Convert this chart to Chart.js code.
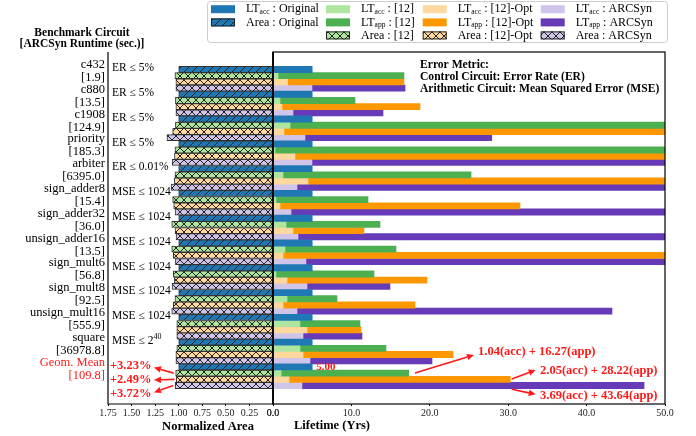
<!DOCTYPE html>
<html><head><meta charset="utf-8">
<script src="https://cdn.jsdelivr.net/npm/chart.js@4.4.0/dist/chart.umd.min.js"></script>
<style>
html,body{margin:0;padding:0;background:#fff;}
#wrap{position:relative;width:696px;height:436px;overflow:hidden;}
#wrap canvas{position:absolute;left:0;top:0;}
</style></head>
<body><div id="wrap"><canvas id="cl" width="696" height="436"></canvas><canvas id="cr" width="696" height="436"></canvas></div>
<script>
// ---------------- data ----------------
const circuits = ['c432','c880','c1908','priority','arbiter','sign_adder8','sign_adder32','unsign_adder16','sign_mult6','sign_mult8','unsign_mult16','square','Geom. Mean'];
const runtimes = ['[1.9]','[13.5]','[124.9]','[185.3]','[6395.0]','[15.4]','[36.0]','[13.5]','[56.8]','[92.5]','[555.9]','[36978.8]','[109.8]'];
const constraints = ['ER ≤ 5%','ER ≤ 5%','ER ≤ 5%','ER ≤ 5%','ER ≤ 0.01%','MSE ≤ 1024','MSE ≤ 1024','MSE ≤ 1024','MSE ≤ 1024','MSE ≤ 1024','MSE ≤ 1024','MSE ≤ 2^40',''];

const areaOriginal = [1,1,1,1,1,1,1,1,1,1,1,1,1];
const area12       = [1.04,1.035,1.035,1.04,1.04,1.064,1.074,1.074,1.057,1.04,1.02,1.02,1.0323];
const area12Opt    = [1.03,1.03,1.064,1.045,1.046,1.053,1.039,1.057,1.046,1.057,1.02,1.03,1.0249];
const areaARCSyn   = [1.03,1.03,1.125,1.07,1.081,1.039,1.028,1.035,1.071,1.074,1.02,1.03,1.0372];
const geomAreaLabels = ['+3.23%','+2.49%','+3.72%'];

const ltAccOriginal = [5,5,5,5,5,5,5,5,5,5,5,5,5];
const ltAcc12     = [0.64,0.89,2.17,0.26,1.28,0.38,1.66,1.53,0.38,1.79,3.44,3.44,1.04];
const ltApp12     = [16.06,9.57,56.0,58.0,23.98,11.74,11.99,14.16,12.5,6.37,7.66,10.97,16.27];
const ltAcc12Opt  = [1.87,1.15,1.4,2.8,4.46,0.89,2.55,1.28,1.79,1.28,4.34,3.83,2.05];
const ltApp12Opt  = [14.83,17.6,60.0,62.0,55.0,30.61,9.05,57.0,17.85,16.83,6.88,19.13,28.22];
const ltAccARCSyn = [4.97,2.55,4.08,4.97,3.06,2.3,3.19,4.2,4.34,3.06,3.83,4.72,3.69];
const ltAppARCSyn = [11.87,11.48,23.82,54.0,58.0,60.0,61.0,56.0,10.58,40.18,7.52,15.56,43.64];

// ---------------- style / layout ----------------
const SERIF = "'Liberation Serif','Times New Roman',serif";
const C = {blue:'#1f77b4', lgreen:'#aee6a0', green:'#4caf50', lorange:'#ffd89e', orange:'#ff9800', lav:'#d1c4e9', purple:'#673ab7', red:'#ff1a1a'};
const PLOT_TOP = 52, PLOT_BOTTOM = 404, LEFT_X = 108, MID_X = 273, RIGHT_X = 665, W = 696;
const Y_MIN = -1.08, Y_MAX = 13.12;
const BAR_T = (PLOT_BOTTOM - PLOT_TOP) / (Y_MAX - Y_MIN) / 4;

const mk = arr => arr.map((v, i) => ({x: v, y: i}));

function hatch(bg, type) {
  const s = 8, c = document.createElement('canvas');
  c.width = s; c.height = s;
  const g = c.getContext('2d');
  g.fillStyle = bg; g.fillRect(0, 0, s, s);
  g.strokeStyle = '#222'; g.lineWidth = 1;
  g.beginPath();
  g.moveTo(-1, s + 1); g.lineTo(s + 1, -1);
  g.moveTo(-1, 1); g.lineTo(1, -1);
  g.moveTo(s - 1, s + 1); g.lineTo(s + 1, s - 1);
  if (type === 'x') {
    g.moveTo(-1, -1); g.lineTo(s + 1, s + 1);
    g.moveTo(s - 1, -1); g.lineTo(s + 1, 1);
    g.moveTo(-1, s - 1); g.lineTo(1, s + 1);
  }
  g.stroke();
  return g.createPattern(c, 'repeat');
}
const P = {blue: hatch(C.blue, '/'), green: hatch(C.lgreen, 'x'), orange: hatch(C.lorange, 'x'), lav: hatch(C.lav, 'x')};

function rich(g, parts, x, y, align) {
  let total = 0;
  parts.forEach(p => { g.font = (p.bold ? 'bold ' : '') + p.size + 'px ' + SERIF; p.w = g.measureText(p.t).width; total += p.w; });
  let cx = align === 'right' ? x - total : (align === 'center' ? x - total / 2 : x);
  g.textAlign = 'left'; g.textBaseline = 'middle';
  parts.forEach(p => { g.font = (p.bold ? 'bold ' : '') + p.size + 'px ' + SERIF; g.fillText(p.t, cx, y + (p.dy || 0)); cx += p.w; });
}
function arrow(g, x1, y1, x2, y2, color) {
  g.save();
  g.strokeStyle = color; g.fillStyle = color; g.lineWidth = 1.6;
  const a = Math.atan2(y2 - y1, x2 - x1), hl = 7, hw = 3.2;
  const bx = x2 - hl * Math.cos(a), by = y2 - hl * Math.sin(a);
  g.beginPath(); g.moveTo(x1, y1); g.lineTo(bx, by); g.stroke();
  g.beginPath(); g.moveTo(x2, y2);
  g.lineTo(bx - hw * Math.sin(a), by + hw * Math.cos(a));
  g.lineTo(bx + hw * Math.sin(a), by - hw * Math.cos(a));
  g.closePath(); g.fill();
  g.restore();
}

// ---------------- left chart (area) ----------------
const leftPlugin = {
  id: 'leftDeco',
  afterDraw(chart) {
    const g = chart.ctx, ys = chart.scales.y, xs = chart.scales.x;
    g.save();
    g.strokeStyle = '#000'; g.lineWidth = 1.2;
    g.beginPath();
    g.moveTo(LEFT_X, PLOT_TOP); g.lineTo(LEFT_X, PLOT_BOTTOM); g.lineTo(MID_X, PLOT_BOTTOM);
    g.moveTo(MID_X, PLOT_TOP); g.lineTo(MID_X, PLOT_BOTTOM);
    g.stroke();
    g.fillStyle = '#000';
    constraints.forEach((s, i) => {
      if (!s) return;
      const y = ys.getPixelForValue(i) - 10.5;
      if (s.includes('^')) {
        const [base, sup] = s.split('^');
        rich(g, [{t: base, size: 11.5}, {t: sup, size: 8, dy: -4}], 112, y, 'left');
      } else {
        rich(g, [{t: s, size: 11.5}], 112, y, 'left');
      }
    });
    g.fillStyle = '#000';
    rich(g, [{t: 'Benchmark Circuit', size: 11.5, bold: true}], 82, 33, 'center');
    rich(g, [{t: '[ARCSyn Runtime (sec.)]', size: 11.5, bold: true}], 82, 44, 'center');
    rich(g, [{t: 'Normalized Area', size: 12.5, bold: true}], 208, 427, 'center');
    const gi = circuits.length - 1, gc = ys.getPixelForValue(gi);
    const rows = [gc - 0.5 * BAR_T, gc + 0.5 * BAR_T, gc + 1.5 * BAR_T];
    const vals = [area12[gi], area12Opt[gi], areaARCSyn[gi]];
    const ty = [366, 380, 394];
    g.fillStyle = C.red;
    geomAreaLabels.forEach((t, k) => {
      rich(g, [{t: t, size: 12.5, bold: true}], 110, ty[k], 'left');
      arrow(g, xs.getPixelForValue(vals[k]) - 2, rows[k], 154, ty[k] + (k === 0 ? 1.5 : (k === 2 ? -1.5 : 0)), C.red);
    });
    g.restore();
  }
};

new Chart(document.getElementById('cl'), {
  type: 'bar',
  data: {
    datasets: [
      {label: 'Area : Original', data: mk(areaOriginal), backgroundColor: P.blue},
      {label: 'Area : [12]', data: mk(area12), backgroundColor: P.green},
      {label: 'Area : [12]-Opt', data: mk(area12Opt), backgroundColor: P.orange},
      {label: 'Area : ARCSyn', data: mk(areaARCSyn), backgroundColor: P.lav}
    ]
  },
  options: {
    indexAxis: 'y', responsive: false, animation: false, devicePixelRatio: 1,
    layout: {padding: {left: 0, right: W - MID_X, top: PLOT_TOP, bottom: 0}},
    plugins: {legend: {display: false}, tooltip: {enabled: false}},
    datasets: {bar: {barThickness: BAR_T, borderColor: '#333', borderWidth: 1, borderSkipped: false}},
    scales: {
      x: {
        type: 'linear', reverse: true, min: 0, max: 1.75,
        afterFit: s => { s.height = 436 - PLOT_BOTTOM; },
        grid: {display: true, drawOnChartArea: false, drawTicks: true, tickLength: 2, color: '#000'},
        border: {display: false},
        ticks: {stepSize: 0.25, autoSkip: false, maxRotation: 0, padding: 1, color: '#222',
                font: {family: SERIF, size: 10},
                callback: v => v === 0 ? '0.0' : v.toFixed(2)}
      },
      y: {
        type: 'linear', reverse: true, offset: false, min: Y_MIN, max: Y_MAX,
        afterFit: s => { s.width = LEFT_X; },
        afterBuildTicks: s => { s.ticks = circuits.map((c, i) => ({value: i - 0.3025})); },
        grid: {display: false, drawTicks: false, offset: false},
        border: {display: false},
        ticks: {autoSkip: false, padding: 3, crossAlign: 'near',
                font: {family: SERIF, size: 12.5, lineHeight: 1.04},
                color: c => c.index === circuits.length - 1 ? C.red : '#000',
                callback: (v, i) => [circuits[i], runtimes[i]]}
      }
    }
  },
  plugins: [leftPlugin]
});

// ---------------- right chart (lifetime) ----------------
const legendCols = [
  {sx: 211, items: [
    {fill: C.blue, parts: ['LT', 'acc', ' : Original']},
    {fill: P.blue, border: true, parts: ['Area : Original']}]},
  {sx: 326, items: [
    {fill: C.lgreen, parts: ['LT', 'acc', ' : [12]']},
    {fill: C.green, parts: ['LT', 'app', ' : [12]']},
    {fill: P.green, border: true, parts: ['Area : [12]']}]},
  {sx: 422.7, items: [
    {fill: C.lorange, parts: ['LT', 'acc', ' : [12]-Opt']},
    {fill: C.orange, parts: ['LT', 'app', ' : [12]-Opt']},
    {fill: P.orange, border: true, parts: ['Area : [12]-Opt']}]},
  {sx: 540.7, items: [
    {fill: C.lav, parts: ['LT', 'acc', ' : ARCSyn']},
    {fill: C.purple, parts: ['LT', 'app', ' : ARCSyn']},
    {fill: P.lav, border: true, parts: ['Area : ARCSyn']}]}
];

const rightPlugin = {
  id: 'rightDeco',
  afterDraw(chart) {
    const g = chart.ctx, xs = chart.scales.x;
    g.save();
    g.strokeStyle = '#000'; g.lineWidth = 1.2;
    g.strokeRect(MID_X, PLOT_TOP, RIGHT_X - MID_X, PLOT_BOTTOM - PLOT_TOP);
    g.lineWidth = 1.6;
    g.beginPath(); g.moveTo(MID_X, PLOT_TOP); g.lineTo(MID_X, PLOT_BOTTOM); g.stroke();
    g.fillStyle = '#000';
    rich(g, [{t: 'Error Metric:', size: 11.6, bold: true}], 420, 65, 'left');
    rich(g, [{t: 'Control Circuit: Error Rate (ER)', size: 11.6, bold: true}], 420, 77.3, 'left');
    rich(g, [{t: 'Arithmetic Circuit: Mean Squared Error (MSE)', size: 11.6, bold: true}], 420, 89.3, 'left');
    rich(g, [{t: 'Lifetime (Yrs)', size: 12.5, bold: true}], 332, 426, 'center');
    const gi = circuits.length - 1;
    g.fillStyle = C.red;
    rich(g, [{t: ltAccOriginal[gi].toFixed(2), size: 11, bold: true}], xs.getPixelForValue(ltAccOriginal[gi]) + 4, 367, 'left');
    const t1 = ltAcc12[gi].toFixed(2) + '(acc) + ' + ltApp12[gi].toFixed(2) + '(app)';
    const t2 = ltAcc12Opt[gi].toFixed(2) + '(acc) + ' + ltApp12Opt[gi].toFixed(2) + '(app)';
    const t3 = ltAccARCSyn[gi].toFixed(2) + '(acc) + ' + ltAppARCSyn[gi].toFixed(2) + '(app)';
    rich(g, [{t: t1, size: 12.5, bold: true}], 478, 352, 'left');
    rich(g, [{t: t2, size: 12.5, bold: true}], 540, 370.7, 'left');
    rich(g, [{t: t3, size: 12.5, bold: true}], 540, 396, 'left');
    arrow(g, 415, 373, 474, 355, C.red);
    arrow(g, 511.7, 379, 535.7, 370, C.red);
    arrow(g, 511.7, 389.3, 535.7, 394.3, C.red);
    g.fillStyle = 'rgba(255,255,255,0.9)';
    g.strokeStyle = '#cccccc'; g.lineWidth = 1;
    g.beginPath();
    if (g.roundRect) g.roundRect(207.5, 1.5, 460, 41, 3); else g.rect(207.5, 1.5, 460, 41);
    g.fill(); g.stroke();
    const rowY = [9.2, 22.4, 35.4];
    legendCols.forEach(col => {
      col.items.forEach((it, r) => {
        const y = rowY[r];
        g.fillStyle = it.fill;
        g.fillRect(col.sx, y - 4, 24, 8);
        if (it.border) { g.strokeStyle = '#222'; g.lineWidth = 1; g.strokeRect(col.sx + 0.5, y - 3.5, 23, 7); }
        g.fillStyle = '#000';
        const tx = col.sx + 35;
        if (it.parts.length === 3) {
          rich(g, [{t: it.parts[0], size: 12}, {t: it.parts[1], size: 7.5, dy: 3}, {t: it.parts[2], size: 12}], tx, y, 'left');
        } else {
          rich(g, [{t: it.parts[0], size: 12}], tx, y, 'left');
        }
      });
    });
    g.restore();
  }
};

new Chart(document.getElementById('cr'), {
  type: 'bar',
  data: {
    datasets: [
      {label: 'LT_acc : Original', data: mk(ltAccOriginal), backgroundColor: C.blue, stack: 's0'},
      {label: 'LT_acc : [12]', data: mk(ltAcc12), backgroundColor: C.lgreen, stack: 's1'},
      {label: 'LT_app : [12]', data: mk(ltApp12), backgroundColor: C.green, stack: 's1'},
      {label: 'LT_acc : [12]-Opt', data: mk(ltAcc12Opt), backgroundColor: C.lorange, stack: 's2'},
      {label: 'LT_app : [12]-Opt', data: mk(ltApp12Opt), backgroundColor: C.orange, stack: 's2'},
      {label: 'LT_acc : ARCSyn', data: mk(ltAccARCSyn), backgroundColor: C.lav, stack: 's3'},
      {label: 'LT_app : ARCSyn', data: mk(ltAppARCSyn), backgroundColor: C.purple, stack: 's3'}
    ]
  },
  options: {
    indexAxis: 'y', responsive: false, animation: false, devicePixelRatio: 1,
    layout: {padding: {left: MID_X, right: W - RIGHT_X, top: PLOT_TOP, bottom: 0}},
    plugins: {legend: {display: false}, tooltip: {enabled: false}},
    datasets: {bar: {barThickness: BAR_T, borderWidth: 0}},
    scales: {
      x: {
        type: 'linear', stacked: true, min: 0, max: 50,
        afterFit: s => { s.height = 436 - PLOT_BOTTOM; },
        grid: {display: true, drawOnChartArea: false, drawTicks: true, tickLength: 2, color: '#000'},
        border: {display: false},
        ticks: {stepSize: 10, autoSkip: false, maxRotation: 0, padding: 1, color: '#222',
                font: {family: SERIF, size: 10},
                callback: v => v.toFixed(1)}
      },
      y: {
        type: 'linear', stacked: true, reverse: true, offset: false, min: Y_MIN, max: Y_MAX, display: false,
        grid: {offset: false}
      }
    }
  },
  plugins: [rightPlugin]
});
</script></body></html>
